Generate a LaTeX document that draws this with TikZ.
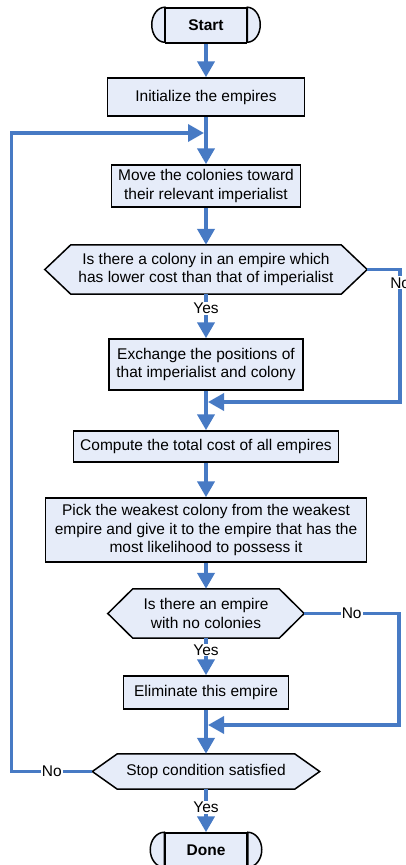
\documentclass[tikz,border=0pt]{standalone}
\usepackage{fontspec}
\setmainfont{Liberation Sans}
\usetikzlibrary{arrows.meta,backgrounds}
\definecolor{boxfill}{RGB}{230,236,249}
\definecolor{flowblue}{RGB}{71,122,196}
\tikzset{
  box/.style={draw, line width=1.5pt, fill=boxfill, align=center, inner sep=2pt},
  dec/.style={align=center, inner sep=0pt},
  term/.style={box, font=\fontsize{15.5}{18.5}\selectfont\bfseries, minimum height=35pt},
  flow/.style={draw=flowblue, line width=4.5pt, -{Triangle[width=17pt,length=16pt]}},
  back/.style={draw=flowblue, line width=3.5pt, -{Triangle[width=17pt,length=16pt]}},
  lbl/.style={fill=white, inner sep=1pt}
}

\begin{document}
\begin{tikzpicture}[x=1pt,y=1pt,font=\fontsize{15.5}{18.5}\selectfont]
\useasboundingbox (0,0) rectangle (406,-865);
% boxes, from the top down
\node[term, minimum width=81pt] (start) at (206,-25.5) {Start};
\node[box, minimum width=197pt, minimum height=38pt] (init) at (206,-97) {Initialize the empires};
\node[box, minimum width=189pt, minimum height=42pt] (move) at (206,-186) {Move the colonies toward\\their relevant imperialist};
\node[dec, minimum width=322pt, minimum height=49pt] (d1) at (206,-269.5) {Is there a colony in an empire which\\has lower cost than that of imperialist};
\node[box, minimum width=194pt, minimum height=51pt] (exch) at (206,-364.5) {Exchange the positions of\\that imperialist and colony};
\node[box, minimum width=265pt, minimum height=31pt] (comp) at (206,-446.5) {Compute the total cost of all empires};
\node[box, minimum width=321pt, minimum height=64pt] (pick) at (206,-530) {Pick the weakest colony from the weakest\\empire and give it to the empire that has the\\most likelihood to possess it};
\node[dec, minimum width=196pt, minimum height=49pt] (d2) at (206,-613.5) {Is there an empire\\with no colonies};
\node[box, minimum width=165pt, minimum height=33pt] (elim) at (206,-692.5) {Eliminate this empire};
\node[dec, minimum width=227pt, minimum height=35pt] (d3) at (206,-771.5) {Stop condition satisfied};
\node[term, minimum width=82pt] (done) at (206,-850.5) {Done};

% where the side loops come back in
\coordinate (in1) at (204,-133);
\coordinate (in2) at (208,-402);
\coordinate (in3) at (208,-725);

\begin{scope}[on background layer]
  \foreach \n/\d in {d1/26pt, d2/25pt, d3/25pt}
    \filldraw[fill=boxfill, line width=1.5pt] (\n.west) -- ([xshift=\d]\n.north west) -- ([xshift=-\d]\n.north east)
      -- (\n.east) -- ([xshift=-\d]\n.south east) -- ([xshift=\d]\n.south west) -- cycle;
  \foreach \n/\r in {start/13pt, done/14pt} {
    \filldraw[fill=boxfill, line width=1.5pt] (\n.north west) arc[start angle=90, end angle=270, x radius=\r, y radius=17.5pt] -- cycle;
    \filldraw[fill=boxfill, line width=1.5pt] (\n.north east) arc[start angle=90, end angle=-90, x radius=\r, y radius=17.5pt] -- cycle;
  }
\end{scope}

\draw[flow] (start) -- (init);
\draw[flow] (init) -- (move);
\draw[flow] (move) -- (d1);
\draw[flow] (d1) -- node[lbl, pos=0.33] {Yes} (exch);
\draw[flow] (exch) -- (comp);
\draw[flow] (comp) -- (pick);
\draw[flow] (pick) -- (d2);
\draw[flow] (d2) -- node[lbl, pos=0.32] {Yes} (elim);
\draw[flow] (elim) -- (d3);
\draw[flow] (d3) -- node[lbl, pos=0.43] {Yes} (done);

\draw[back] (d1.east) -- ++(33,0) |- node[lbl, pos=0.05] {No} (in2);
\draw[back] (d2.east) -- node[lbl] {No} ++(95,0) |- (in3);
\draw[back] (d3.west) -- node[lbl] {No} ++(-81,0) |- (in1);
\end{tikzpicture}
\end{document}
